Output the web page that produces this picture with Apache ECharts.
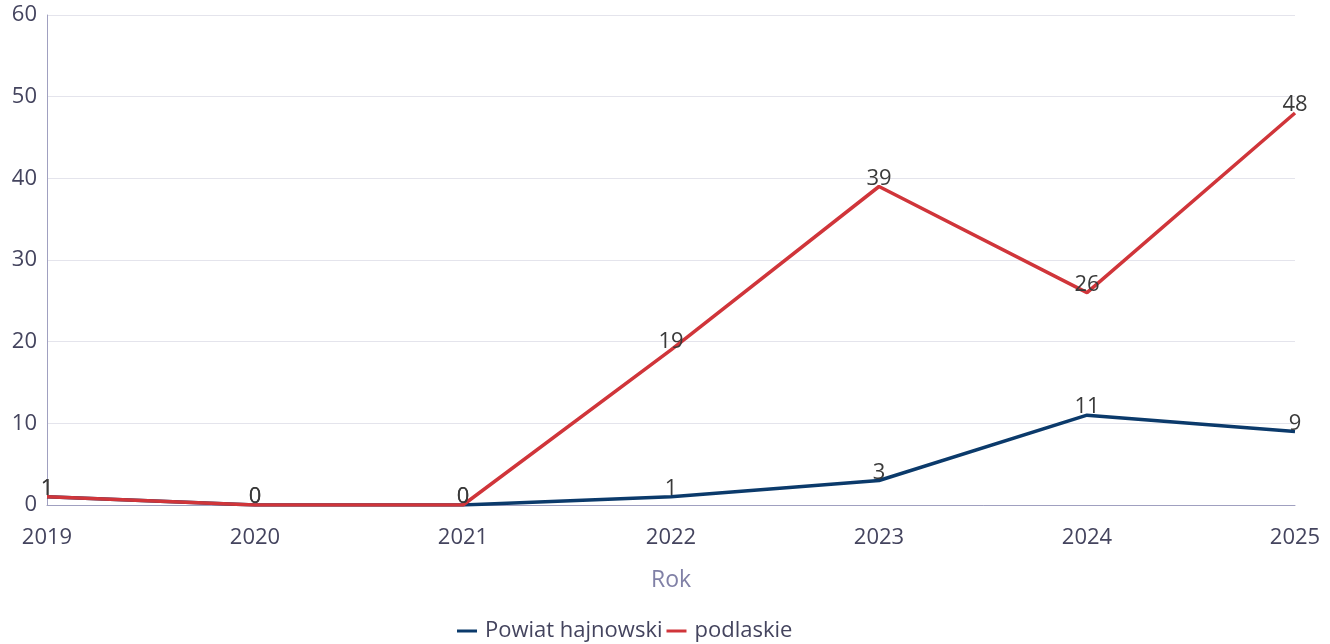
<!DOCTYPE html>
<html>
<head>
<meta charset="utf-8">
<script src="https://cdn.jsdelivr.net/npm/echarts@6/dist/echarts.min.js"></script>
<style>html,body{margin:0;padding:0;background:#fff}#c{width:1330px;height:644px}</style>
</head>
<body>
<div id="c"></div>
<script>
const years = ['2019','2020','2021','2022','2023','2024','2025'];
const hajnowski = [1, 0, 0, 1, 3, 11, 9];
const podlaskie = [1, 0, 0, 19, 39, 26, 48];
const seriesNames = ['Powiat hajnowski', 'podlaskie'];

const chart = echarts.init(document.getElementById('c'));
const font = '"Open Sans", "Noto Sans", sans-serif';
const lbl = {show: true, position: 'top', distance: -3, fontSize: 22, color: '#3a3a3a', fontFamily: font};
chart.setOption({
  animation: false,
  textStyle: {fontFamily: font},
  grid: {left: 47, right: 35, top: 15, bottom: 139, containLabel: false},
  legend: {
    bottom: -3, left: 452, itemGap: 4, itemWidth: 20, itemHeight: 3,
    icon: 'rect',
    textStyle: {fontSize: 22, color: '#44445e', fontFamily: font, padding: [0, 0, 0, 3]},
    data: seriesNames
  },
  xAxis: {
    type: 'category', data: years, boundaryGap: false,
    name: 'Rok', nameLocation: 'middle', nameGap: 64,
    nameTextStyle: {fontSize: 23, color: '#8080a6', fontFamily: font},
    axisLine: {lineStyle: {color: '#a0a0c0', width: 1}},
    axisTick: {show: false},
    axisLabel: {fontSize: 22, color: '#44445e', margin: 22, fontFamily: font},
    splitLine: {show: false}
  },
  yAxis: {
    type: 'value', min: 0, max: 60, interval: 10,
    axisLine: {show: true, lineStyle: {color: '#a0a0c0', width: 1}},
    axisTick: {show: false},
    axisLabel: {fontSize: 22, color: '#44445e', margin: 10, fontFamily: font},
    splitLine: {lineStyle: {color: '#e4e4ec', width: 1}}
  },
  series: [
    {name: seriesNames[0], type: 'line', data: hajnowski, color: '#0b3a6b',
     lineStyle: {width: 3.5}, symbol: 'circle', symbolSize: 0, showSymbol: true,
     label: lbl, labelLayout: {hideOverlap: false}},
    {name: seriesNames[1], type: 'line', data: podlaskie, color: '#d0353a',
     lineStyle: {width: 3.5}, symbol: 'circle', symbolSize: 0, showSymbol: true,
     label: lbl, labelLayout: {hideOverlap: false}}
  ]
});
</script>
</body>
</html>
